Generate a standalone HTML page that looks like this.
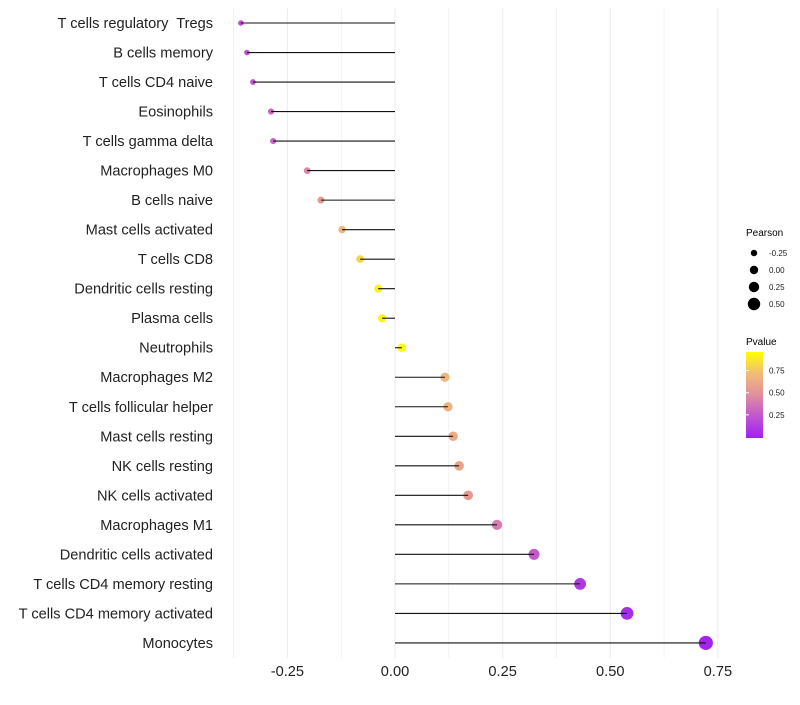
<!DOCTYPE html>
<html><head><meta charset="utf-8"><style>
body{margin:0;background:#fff;font-family:"Liberation Sans",sans-serif}
text{white-space:pre}
</style></head><body>
<svg id="chart" width="800" height="700" xmlns="http://www.w3.org/2000/svg">
<g id="grid"></g>
<g id="dots"></g>
<g id="marks"></g>
<g id="ylabels"></g>
<g id="xlabels"></g>
<g id="legend">
<text x="746" y="236" font-size="10">Pearson</text>
<text x="746" y="345" font-size="10">Pvalue</text>
<defs><linearGradient id="pg" x1="0" y1="1" x2="0" y2="0">
<stop offset="0" stop-color="#A020F0"/><stop offset="0.25" stop-color="#C055D0"/><stop offset="0.5" stop-color="#E08E9E"/><stop offset="0.75" stop-color="#F2BC78"/><stop offset="1" stop-color="#FFFF00"/>
</linearGradient></defs>
<rect x="746" y="352" width="17" height="86" fill="url(#pg)"/>
</g>
</svg>
<script>
const categories=["T cells regulatory  Tregs","B cells memory","T cells CD4 naive","Eosinophils","T cells gamma delta","Macrophages M0","B cells naive","Mast cells activated","T cells CD8","Dendritic cells resting","Plasma cells","Neutrophils","Macrophages M2","T cells follicular helper","Mast cells resting","NK cells resting","NK cells activated","Macrophages M1","Dendritic cells activated","T cells CD4 memory resting","T cells CD4 memory activated","Monocytes"];
const pearson=[-0.358,-0.344,-0.330,-0.288,-0.283,-0.204,-0.172,-0.123,-0.081,-0.039,-0.030,0.016,0.116,0.123,0.135,0.149,0.170,0.237,0.323,0.430,0.539,0.722];
const pvalue=[0.22,0.24,0.26,0.31,0.32,0.47,0.57,0.72,0.85,0.95,0.96,0.98,0.72,0.70,0.66,0.62,0.57,0.42,0.27,0.12,0.06,0.02];
const xTicks=[-0.25,0,0.25,0.5,0.75];
const xTickLabels=["-0.25","0.00","0.25","0.50","0.75"];
const sizeLegend=[-0.25,0,0.25,0.5];
const sizeLegendLabels=["-0.25","0.00","0.25","0.50"];
const colorLegend=[0.25,0.5,0.75];
const colorLegendLabels=["0.25","0.50","0.75"];
const NS="http://www.w3.org/2000/svg";
const x=v=>395+v*430.5;
const y=i=>23+i*29.52;
const r=v=>4.2+4*v;
const stops=[[0,[160,32,240]],[0.25,[192,85,208]],[0.5,[224,142,158]],[0.75,[242,188,120]],[1,[255,255,0]]];
function col(p){p=Math.max(0,Math.min(1,p));for(let i=0;i<4;i++){const a=stops[i],b=stops[i+1];if(p<=b[0]){const t=(p-a[0])/(b[0]-a[0]);return "rgb("+a[1].map((c,k)=>Math.round(c+(b[1][k]-c)*t)).join(",")+")";}}return "rgb(255,255,0)";}
function mk(tag,at,parent){const e=document.createElementNS(NS,tag);for(const k in at)e.setAttribute(k,at[k]);document.getElementById(parent).appendChild(e);return e;}
for(let v=-0.375;v<=0.76;v+=0.125){
 const g=mk("line",{x1:x(v),x2:x(v),y1:8,y2:658,stroke:"#ebebeb","stroke-width":Math.abs(v/0.25-Math.round(v/0.25))<0.01?1:0.6},"grid");
 
 
}
xTicks.forEach((v,i)=>{
 const t=mk("text",{x:x(v),y:676,"font-size":14.6,"text-anchor":"middle",fill:"#222"},"xlabels");
 t.textContent=xTickLabels[i];
 
 
});
categories.forEach((c,i)=>{
 const t=mk("text",{x:213,y:y(i)+5,"font-size":14.6,"text-anchor":"end",fill:"#222"},"ylabels");
 t.textContent=c;
 
 
 const d=mk("circle",{cx:x(pearson[i]),cy:y(i),r:r(pearson[i]),fill:col(pvalue[i])},"dots");
 
 
 const l=mk("line",{x1:x(0),x2:x(pearson[i]),y1:y(i),y2:y(i),stroke:"#111","stroke-width":1.1},"marks");
 
 
});
sizeLegend.forEach((v,i)=>{
 const cy=253+i*17;
 const d=mk("circle",{cx:754,cy:cy,r:r(v),fill:"#000"},"legend");
 
 
 const t=mk("text",{x:769,y:cy+3,"font-size":8,fill:"#222"},"legend");
 t.textContent=sizeLegendLabels[i];
 
 
});
colorLegend.forEach((v,i)=>{
 const cy=437-v/0.97*86;
 const t=mk("text",{x:769,y:cy+3,"font-size":8,fill:"#222"},"legend");
 t.textContent=colorLegendLabels[i];
 
 
 const k=mk("line",{x1:746,x2:749,y1:cy,y2:cy,stroke:"#fff"},"legend");
 
 
});
</script>
</body></html>
